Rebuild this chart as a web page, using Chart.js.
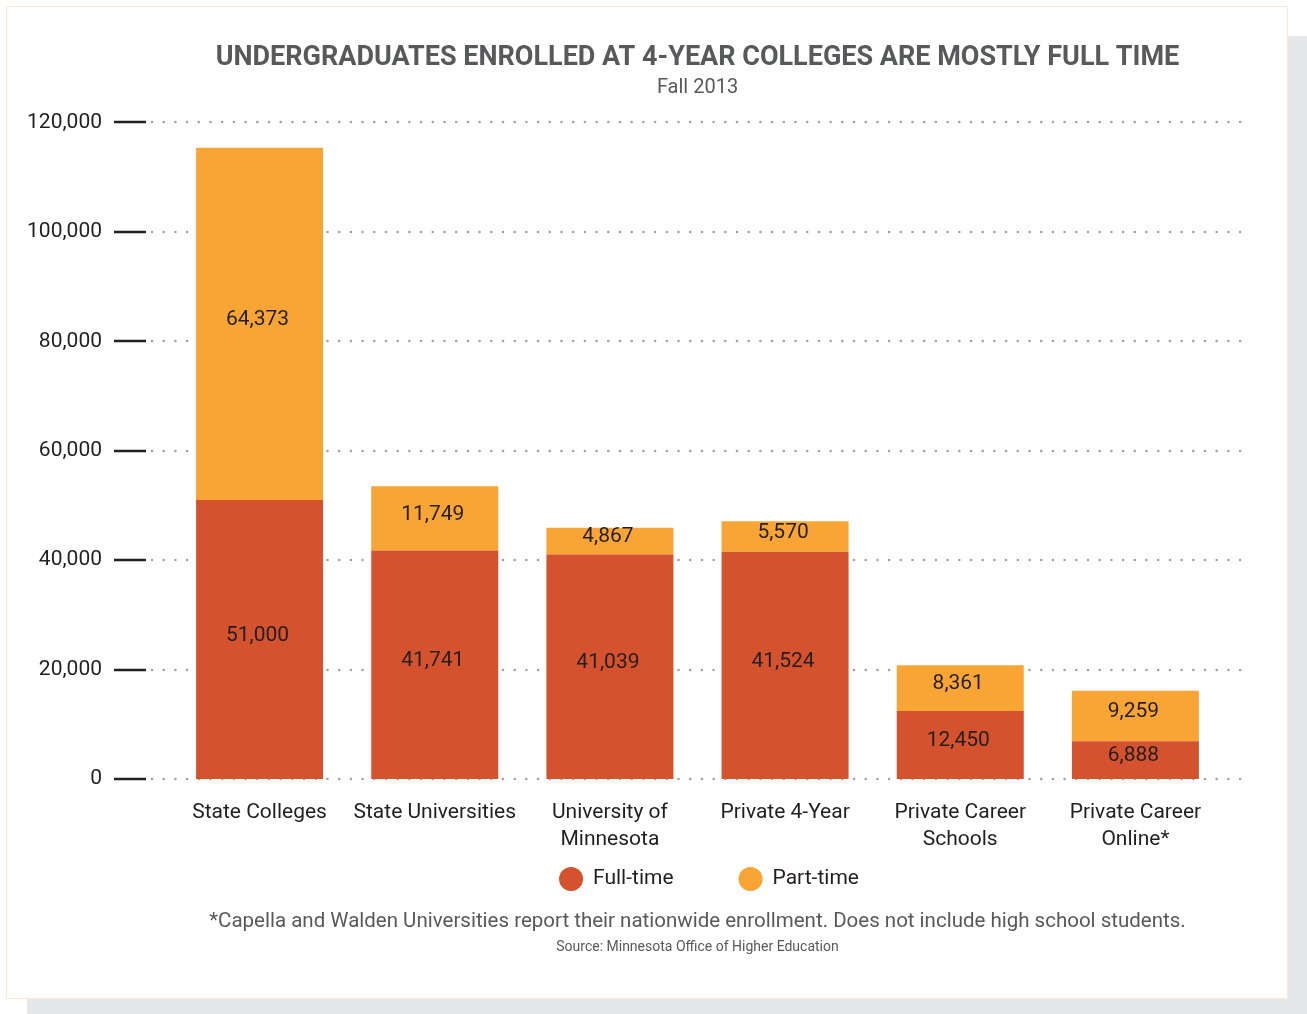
<!DOCTYPE html>
<html>
<head>
<meta charset="utf-8">
<script src="https://cdn.jsdelivr.net/npm/chart.js@4.4.1/dist/chart.umd.min.js"></script>
<style>
  html, body { margin: 0; padding: 0; background: #fff; }
  body { width: 1307px; height: 1014px; position: relative; overflow: hidden; font-family: Roboto, sans-serif; }
  #shadow { position: absolute; left: 27px; top: 36px; width: 1280px; height: 978px; background: #e6e7e8; }
  #frame { position: absolute; left: 6px; top: 6px; width: 1280px; height: 991px; background: #fff; border: 1.5px solid #fde7cf; }
  #wrap { position: absolute; left: 0; top: 0; width: 1307px; height: 1014px; }
  .note { position: absolute; left: 172px; width: 1051px; text-align: center; color: #58595b; white-space: nowrap; }
  #foot { top: 908px; font-size: 20.5px; }
  #src { top: 938px; font-size: 14px; }
</style>
</head>
<body>
<div id="shadow"></div>
<div id="frame"></div>
<div id="wrap"><canvas id="enrollChart" width="1307" height="1014"></canvas></div>
<div class="note" id="foot">*Capella and Walden Universities report their nationwide enrollment. Does not include high school students.</div>
<div class="note" id="src">Source: Minnesota Office of Higher Education</div>
<script>
// data
const categories = [
  ['State Colleges'],
  ['State Universities'],
  ['University of', 'Minnesota'],
  ['Private 4-Year'],
  ['Private Career', 'Schools'],
  ['Private Career', 'Online*']
];
const fullTime = [51000, 41741, 41039, 41524, 12450, 6888];
const partTime = [64373, 11749, 4867, 5570, 8361, 9259];
const yTicks = [0, 20000, 40000, 60000, 80000, 100000, 120000];

const FONT = 'Roboto';
const INK = '#231f20';
const GREY = '#58595b';

// dotted grid lines + short black dashes at each tick
const gridPlugin = {
  id: 'dotGrid',
  beforeDatasetsDraw(chart) {
    const ctx = chart.ctx;
    const y = chart.scales.y;
    ctx.save();
    yTicks.forEach(v => {
      const py = Math.round(y.getPixelForValue(v));
      ctx.strokeStyle = INK;
      ctx.lineWidth = 2.5;
      ctx.beginPath();
      ctx.moveTo(114, py);
      ctx.lineTo(146, py);
      ctx.stroke();
      ctx.fillStyle = '#a0a2a4';
      for (let x = 152; x <= 1245; x += 11.7) {
        ctx.beginPath();
        ctx.arc(x, py, 1.3, 0, Math.PI * 2);
        ctx.fill();
      }
    });
    ctx.restore();
  }
};

// value labels centred in each segment
const valuePlugin = {
  id: 'segValues',
  afterDatasetsDraw(chart) {
    const ctx = chart.ctx;
    ctx.save();
    ctx.font = '21px ' + FONT;
    ctx.fillStyle = INK;
    ctx.textAlign = 'center';
    ctx.textBaseline = 'middle';
    chart.data.datasets.forEach((ds, i) => {
      chart.getDatasetMeta(i).data.forEach((bar, j) => {
        const mid = (bar.y + bar.base) / 2;
        ctx.fillText(ds.data[j].toLocaleString('en-US'), bar.x - 2, mid - 4);
      });
    });
    ctx.restore();
  }
};

// round-dot legend under the category labels
const dotLegend = {
  id: 'dotLegend',
  afterDraw(chart) {
    const ctx = chart.ctx;
    const cy = 879, r = 12, gap = 65, centre = 709;
    ctx.save();
    ctx.font = '21px ' + FONT;
    ctx.textBaseline = 'middle';
    const items = chart.data.datasets.map(ds => ({
      text: ds.label, color: ds.backgroundColor,
      w: 2 * r + 10 + ctx.measureText(ds.label).width
    }));
    let x = centre - (items.reduce((s, it) => s + it.w, 0) + gap * (items.length - 1)) / 2;
    items.forEach(it => {
      ctx.fillStyle = it.color;
      ctx.beginPath();
      ctx.arc(x + r, cy, r, 0, Math.PI * 2);
      ctx.fill();
      ctx.fillStyle = INK;
      ctx.fillText(it.text, x + 2 * r + 10, cy);
      x += it.w + gap;
    });
    ctx.restore();
  }
};

new Chart(document.getElementById('enrollChart'), {
  type: 'bar',
  data: {
    labels: categories,
    datasets: [
      { label: 'Full-time', data: fullTime, backgroundColor: '#d4532e' },
      { label: 'Part-time', data: partTime, backgroundColor: '#f9a535' }
    ]
  },
  options: {
    responsive: false,
    animation: false,
    categoryPercentage: 1,
    barPercentage: 0.725,
    layout: { padding: { left: 0, right: 84, top: 35, bottom: 155 } },
    plugins: {
      tooltip: { enabled: false },
      legend: { display: false },
      title: {
        display: true,
        fullSize: false,
        text: 'UNDERGRADUATES ENROLLED AT 4-YEAR COLLEGES ARE MOSTLY FULL TIME',
        color: GREY,
        font: { family: FONT, size: 27, weight: 'bold' },
        padding: { top: 7, bottom: 0 }
      },
      subtitle: {
        display: true,
        fullSize: false,
        text: 'Fall 2013',
        color: GREY,
        font: { family: FONT, size: 20 },
        padding: { top: 2, bottom: 22 }
      }
    },
    scales: {
      x: {
        stacked: true,
        grid: { display: false, drawTicks: false },
        border: { display: false },
        ticks: { color: INK, padding: 20, maxRotation: 0, font: { family: FONT, size: 21, lineHeight: 1.3 } },
        afterFit(s) { s.height = 80; }
      },
      y: {
        stacked: true,
        min: 0,
        max: 120000,
        grid: { display: false, drawTicks: false },
        border: { display: false },
        ticks: {
          stepSize: 20000,
          padding: 70,
          color: INK,
          font: { family: FONT, size: 21 },
          callback: v => v.toLocaleString('en-US')
        },
        afterFit(s) { s.width = 172; }
      }
    }
  },
  plugins: [gridPlugin, valuePlugin, dotLegend]
});
</script>
</body>
</html>
